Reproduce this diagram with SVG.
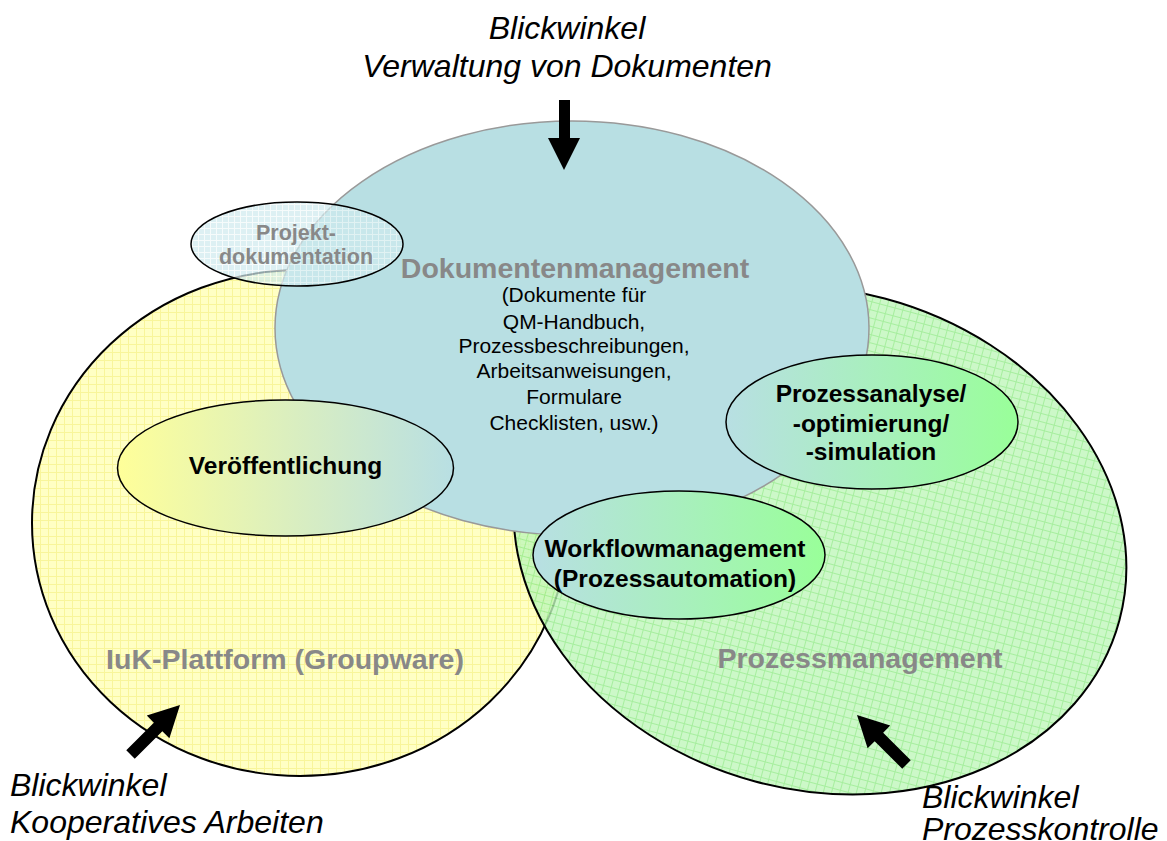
<svg xmlns="http://www.w3.org/2000/svg" width="1167" height="841" viewBox="0 0 1167 841">
<style>
.it{font-family:"Liberation Sans",Arial,sans-serif;font-style:italic;font-size:32px;fill:#000}
.gb{font-family:"Liberation Sans",Arial,sans-serif;font-weight:bold;fill:#888;text-anchor:middle}
.bb{font-family:"Liberation Sans",Arial,sans-serif;font-weight:bold;font-size:24.5px;fill:#000;text-anchor:middle}
.sm{font-family:"Liberation Sans",Arial,sans-serif;font-size:21px;fill:#000;text-anchor:middle}
.arr{fill:#000}
.sub{stroke:#000;stroke-width:1.5}
</style>
<defs>
<pattern id="py" width="8" height="8" patternUnits="userSpaceOnUse">
<rect width="8" height="8" fill="#ffffc4"/>
<path d="M0 0.5H8M0.5 0V8" stroke="#f8f59a" stroke-width="1"/>
</pattern>
<pattern id="pg" width="8" height="8" patternUnits="userSpaceOnUse">
<rect width="8" height="8" fill="#bff6ba"/>
<path d="M0 0.5H8M0.5 0V8" stroke="#90ea86" stroke-width="1"/>
</pattern>
<pattern id="pb" width="6" height="6" patternUnits="userSpaceOnUse">
<rect width="6" height="6" fill="#cfeaee"/>
<path d="M0 0.5H6M0.5 0V6" stroke="#f2fafa" stroke-width="1"/>
</pattern>
<linearGradient id="gyb" x1="0" y1="0" x2="1" y2="0">
<stop offset="0" stop-color="#ffff99"/>
<stop offset="1" stop-color="#b8dfe3"/>
</linearGradient>
<linearGradient id="gbg" x1="0" y1="0" x2="1" y2="0">
<stop offset="0" stop-color="#b8dfe3"/>
<stop offset="1" stop-color="#99ff99"/>
</linearGradient>
</defs>
<rect width="1167" height="841" fill="#fff"/>

<g id="iuk">
<ellipse cx="300" cy="523" rx="268" ry="253" fill="url(#py)" stroke="#000" stroke-width="2"/>
</g>
<g id="prozessmanagement">
<ellipse cx="820" cy="540" rx="310" ry="250" transform="rotate(15 820 540)" fill="url(#pg)" fill-opacity="0.8" stroke="#000" stroke-width="2"/>
</g>
<g id="dokumentenmanagement">
<ellipse cx="572" cy="328" rx="297" ry="207" fill="#b8dfe3" stroke="#999" stroke-width="1.5"/>
<text class="gb" x="575" y="278" font-size="28.5">Dokumentenmanagement</text>
<text class="sm" x="574" y="302">(Dokumente für</text>
<text class="sm" x="574" y="329">QM-Handbuch,</text>
<text class="sm" x="574" y="353">Prozessbeschreibungen,</text>
<text class="sm" x="574" y="378">Arbeitsanweisungen,</text>
<text class="sm" x="574" y="404">Formulare</text>
<text class="sm" x="574" y="430">Checklisten, usw.)</text>
</g>
<g id="labels-areas">
<text class="gb" x="285" y="669" font-size="28.5">IuK-Plattform (Groupware)</text>
<text class="gb" x="860" y="668" font-size="28.5">Prozessmanagement</text>
</g>
<g id="projektdokumentation">
<ellipse cx="297" cy="244" rx="106" ry="42" fill="url(#pb)" fill-opacity="0.7" class="sub"/>
<text class="gb" x="296" y="240" font-size="21.5">Projekt-</text>
<text class="gb" x="296" y="264" font-size="21.5">dokumentation</text>
</g>
<g id="veroeffentlichung">
<ellipse cx="285.5" cy="468" rx="168" ry="68" fill="url(#gyb)" class="sub"/>
<text class="bb" x="285.5" y="474">Veröffentlichung</text>
</g>
<g id="workflow">
<ellipse cx="679" cy="555" rx="146" ry="64" fill="url(#gbg)" class="sub"/>
<text class="bb" x="675" y="557">Workflowmanagement</text>
<text class="bb" x="675" y="587">(Prozessautomation)</text>
</g>
<g id="prozessanalyse">
<ellipse cx="872" cy="422" rx="146" ry="67" fill="url(#gbg)" class="sub"/>
<text class="bb" x="871" y="402">Prozessanalyse/</text>
<text class="bb" x="871" y="432">-optimierung/</text>
<text class="bb" x="871" y="460">-simulation</text>
</g>

<g id="viewpoints">
<text class="it" x="567" y="39" text-anchor="middle">Blickwinkel</text>
<text class="it" x="567" y="77" text-anchor="middle">Verwaltung von Dokumenten</text>
<text class="it" x="10" y="796">Blickwinkel</text>
<text class="it" x="10" y="833">Kooperatives Arbeiten</text>
<text class="it" x="922" y="808">Blickwinkel</text>
<text class="it" x="922" y="840">Prozesskontrolle</text>
</g>

<g id="connectors">
<polygon class="arr" points="559,100 570,100 570,138 580,138 564,170 548,138 559,138"/>
<g transform="translate(180,705) rotate(45)"><polygon class="arr" points="0,0 16,31 6,31 6,70 -6,70 -6,31 -16,31"/></g>
<g transform="translate(857,715) rotate(-45)"><polygon class="arr" points="0,0 16,31 6,31 6,70 -6,70 -6,31 -16,31"/></g>
</g>
</svg>
